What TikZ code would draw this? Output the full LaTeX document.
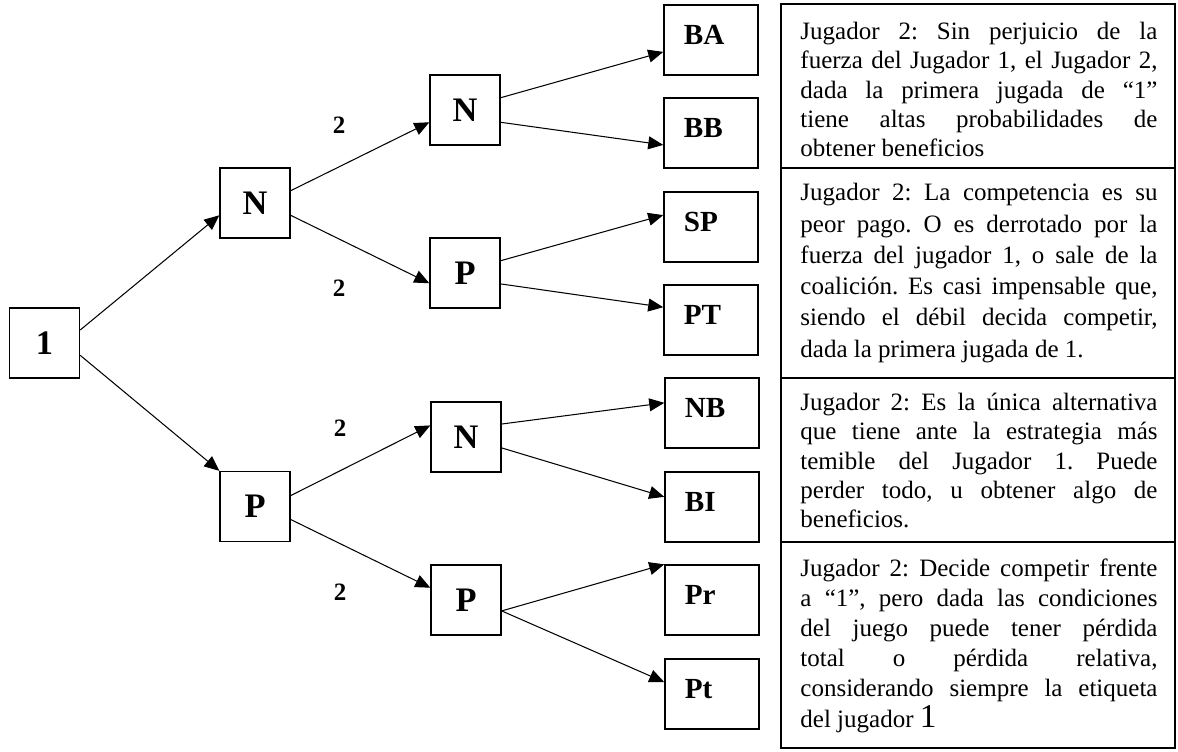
\documentclass[tikz,border=0pt]{standalone}
\usepackage{fontspec}
\setmainfont{Liberation Serif}
\usetikzlibrary{arrows.meta}

\begin{document}
\begin{tikzpicture}[x=0.48pt, y=-0.48pt,
    move/.style={draw, line width=0.65pt, minimum width=33.6pt, minimum height=33.6pt, inner sep=0pt, font=\fontsize{16.5}{19}\selectfont\bfseries},
    payoff/.style={draw, line width=0.65pt, minimum width=45.1pt, minimum height=33.6pt, text width=26pt, inner xsep=9.6pt, inner ysep=0pt, align=left, text depth=4.8pt, font=\fontsize{14}{17}\selectfont\bfseries},
    turn/.style={font=\fontsize{12}{14}\selectfont\bfseries},
    branch/.style={line width=0.5pt, -{Triangle[length=7.2pt, width=6.2pt]}},
    note/.style={anchor=north west, inner sep=0pt, text width=171.4pt, align=justify, font=\fontsize{12}{#1}\selectfont\frenchspacing},
    note/.default=14pt]
    \useasboundingbox (0,0) rectangle (1178,751);

    % tree
    \node[move] (one) at (44.5,343) {1};
    \node[move] (n) at (255,203) {N};
    \node[move] (p) at (255,506.5) {P};

    \node[move] (nn) at (465,110) {N};
    \node[move] (np) at (465,273) {P};
    \node[move] (pn) at (466,437) {N};
    \node[move] (pp) at (466,600) {P};

    \node[payoff] (ba) at (711,40) {BA};
    \node[payoff] (bb) at (711,133) {BB};
    \node[payoff] (sp) at (711,227) {SP};
    \node[payoff] (pt) at (711,320) {PT};
    \node[payoff] (nb) at (712,413) {NB};
    \node[payoff] (bi) at (712,507) {BI};
    \node[payoff] (prel) at (712,600) {Pr};
    \node[payoff] (ptot) at (712,694) {Pt};

    \node[turn] (t1) at (339,125) {2};
    \node[turn] (t2) at (339,288) {2};
    \node[turn] (t3) at (340,428) {2};
    \node[turn] (t4) at (340,592) {2};

    \draw[branch] (one.20) -- (n.199);
    \draw[branch] (one.-19) -- (p.north west);
    \draw[branch] (n.19) -- (nn.199);
    \draw[branch] (n.-19) -- (np.196);
    \draw[branch] (p.17) -- (pn.162);
    \draw[branch] (p.-20) -- (pp.161);

    \draw[branch] (nn.19) -- (ba.194);
    \draw[branch] (nn.-19) -- (bb.194);
    \draw[branch] (np.19) -- (sp.166);
    \draw[branch] (np.-17) -- (pt.165);
    \draw[branch] (pn.20) -- (nb.168);
    \draw[branch] (pn.-17) -- (bi.168);
    \draw[branch] (pp.-17) -- (prel.north west);
    \draw[branch] (pp.-17) -- (ptot.166);

    % table
    \draw[line width=0.65pt] (781,4) rectangle (1175,748);
    \foreach \y in {168,378,542}
        \draw[line width=0.65pt] (781,\y) -- (1175,\y);

    \node[note] (c1) at (800,22) {Jugador 2: Sin perjuicio de la\linebreak
        fuerza del Jugador 1, el Jugador 2,\linebreak
        dada la primera jugada de “1”\linebreak
        tiene altas probabilidades de\linebreak
        obtener beneficios};
    \node[note=15pt] (c2) at (800,183) {Jugador 2: La competencia es su\linebreak
        peor pago. O es derrotado por la\linebreak
        fuerza del jugador 1, o sale de la\linebreak
        coalición. Es casi impensable que,\linebreak
        siendo el débil decida competir,\linebreak
        dada la primera jugada de 1.};
    \node[note] (c3) at (800,393) {Jugador 2: Es la única alternativa\linebreak
        que tiene ante la estrategia más\linebreak
        temible del Jugador 1. Puede\linebreak
        perder todo, u obtener algo de\linebreak
        beneficios.};
    \node[note=14.5pt] (c4) at (800,558) {Jugador 2: Decide competir frente\linebreak
        a “1”, pero dada las condiciones\linebreak
        del juego puede tener pérdida\linebreak
        total o pérdida relativa,\linebreak
        considerando siempre la etiqueta\linebreak
        del jugador {\fontsize{16}{14}\selectfont 1}};
\end{tikzpicture}
\end{document}
